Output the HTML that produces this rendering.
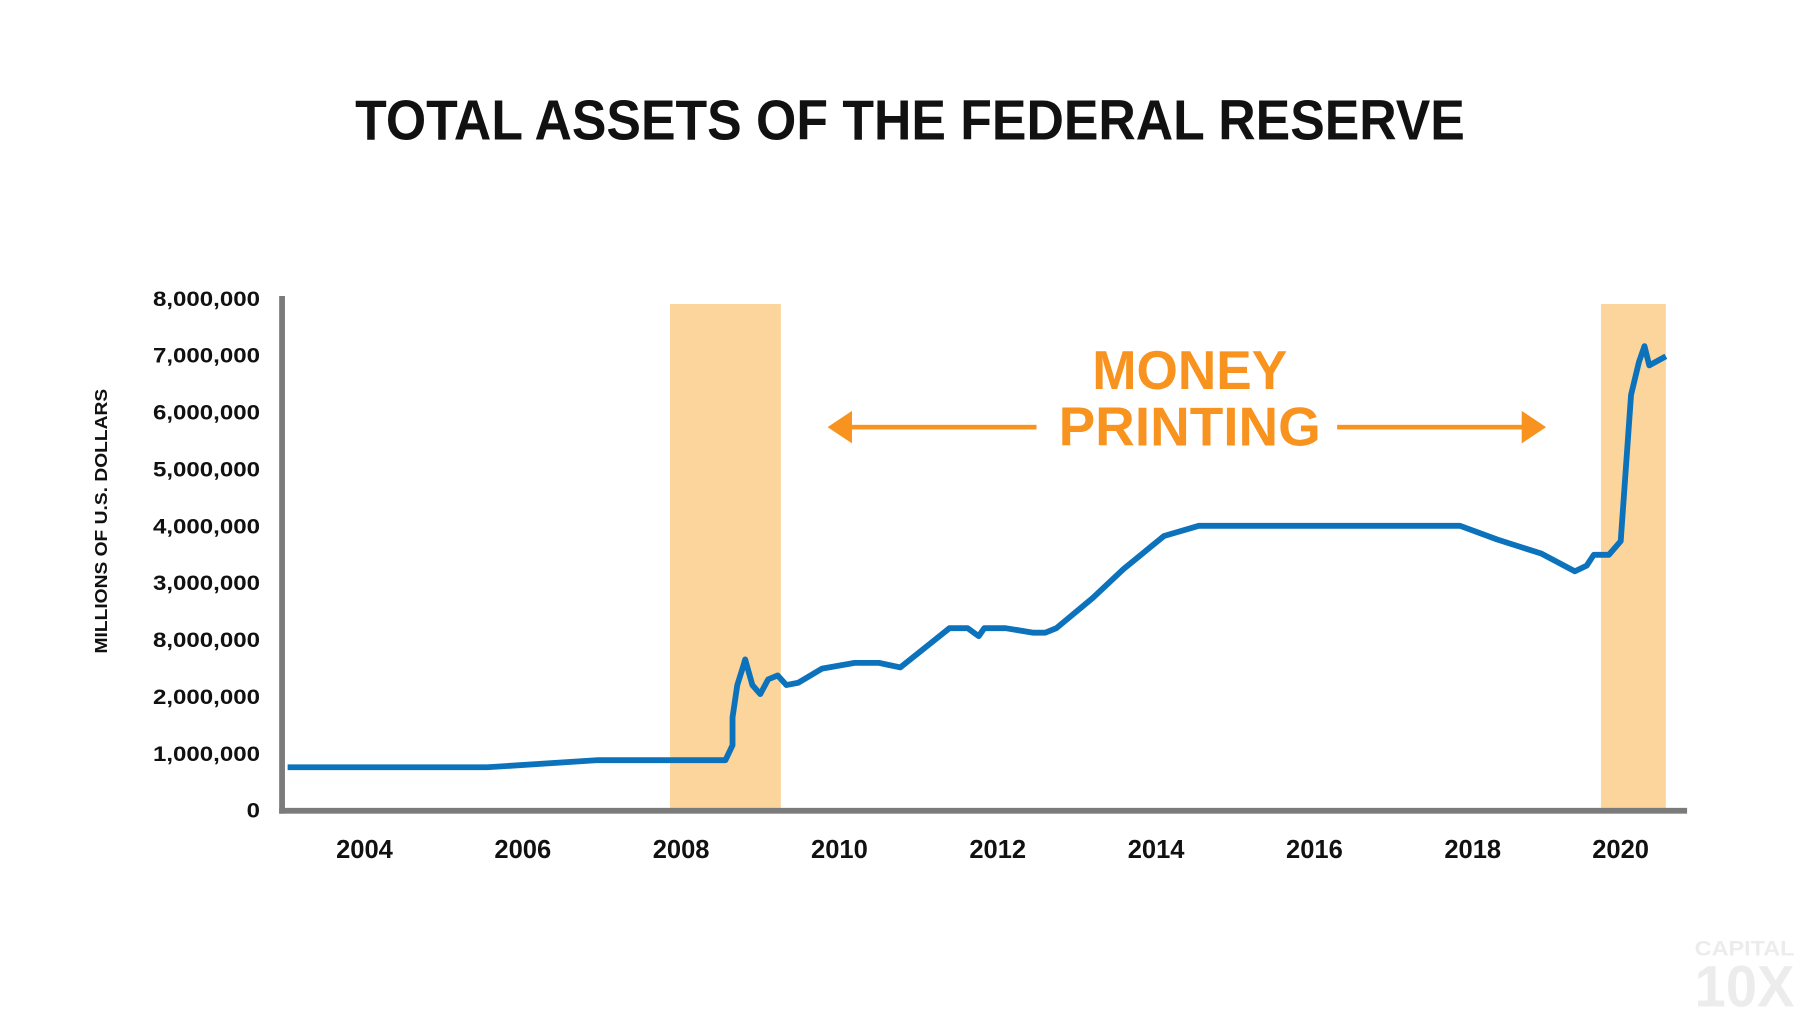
<!DOCTYPE html>
<html><head><meta charset="utf-8"><style>
html,body{margin:0;padding:0;background:#fff;width:1820px;height:1024px;overflow:hidden}
svg{display:block}
text{font-family:"Liberation Sans",sans-serif;font-weight:bold}
</style></head><body>
<svg id="chart" width="1820" height="1024" viewBox="0 0 1568 882.2">
<text x="784" y="120" text-anchor="middle" font-size="49" fill="#111" textLength="956" lengthAdjust="spacingAndGlyphs">TOTAL ASSETS OF THE FEDERAL RESERVE</text>
<g id="shades"></g>
<g id="yticks"></g>
<g id="xticks"></g>
<text transform="translate(92,449) rotate(-90)" text-anchor="middle" font-size="15.5" fill="#111" textLength="228" lengthAdjust="spacingAndGlyphs">MILLIONS OF U.S. DOLLARS</text>
<g fill="#f7931e">
<text x="1025" y="335" text-anchor="middle" font-size="47" textLength="168" lengthAdjust="spacingAndGlyphs">MONEY</text>
<text x="1025" y="384" text-anchor="middle" font-size="47" textLength="226" lengthAdjust="spacingAndGlyphs">PRINTING</text>
<rect x="728" y="366" width="165" height="4"/>
<polygon points="713,368 734,354 734,382"/>
<rect x="1152" y="366" width="165" height="4"/>
<polygon points="1332,368 1311,354 1311,382"/>
</g>
<path id="series" fill="none" stroke="#0b72bb" stroke-width="5" stroke-linejoin="round"/>
<rect x="240.5" y="255" width="5" height="446" fill="#7b7b7b"/>
<rect x="240.5" y="696" width="1213" height="5" fill="#7b7b7b"/>
<g fill="#ececec">
<text x="1503" y="823" text-anchor="middle" font-size="18" textLength="86" lengthAdjust="spacingAndGlyphs">CAPITAL</text>
<text x="1503" y="867" text-anchor="middle" font-size="50" textLength="86" lengthAdjust="spacingAndGlyphs">10X</text>
</g>
</svg>
<script>
const yTickLabels = ["0","1,000,000","2,000,000","8,000,000","3,000,000","4,000,000","5,000,000","6,000,000","7,000,000","8,000,000"];
const xTickYears = [2004,2006,2008,2010,2012,2014,2016,2018,2020];
const recessionStarts = [2007.86, 2019.62];
const recessionEnds = [2009.26, 2020.44];
const years = [2003.03,2005.55,2006.95,2008.56,2008.65,2008.65,2008.71,2008.78,2008.81,2008.9,2009.0,2009.1,2009.22,2009.33,2009.48,2009.78,2010.19,2010.5,2010.77,2011.39,2011.62,2011.76,2011.83,2012.1,2012.45,2012.6,2012.74,2013.2,2013.59,2014.1,2014.54,2017.84,2018.31,2018.87,2019.29,2019.44,2019.53,2019.72,2019.87,2020.0,2020.1,2020.17,2020.23,2020.44];
const values = [0.755,0.755,0.88,0.88,1.14,1.63,2.2,2.51,2.65,2.2,2.04,2.3,2.37,2.2,2.24,2.49,2.59,2.59,2.51,3.2,3.2,3.06,3.2,3.2,3.12,3.12,3.2,3.73,4.24,4.82,5.0,5.0,4.76,4.51,4.2,4.3,4.49,4.49,4.73,7.3,7.88,8.16,7.82,7.98];

const NS="http://www.w3.org/2000/svg";
function xPos(yr){return 314+(yr-2004)*68.2;}
function yPos(v){return 698-v*49;}

const yt=document.getElementById('yticks');
yTickLabels.forEach((lab,i)=>{
  const t=document.createElementNS(NS,'text');
  t.setAttribute('x',224);t.setAttribute('y',yPos(i)+6.5);
  t.setAttribute('text-anchor','end');t.setAttribute('font-size','18.5');t.setAttribute('fill','#111');
  t.textContent=lab;
  
  
  yt.appendChild(t);
  const w=t.getComputedTextLength();
  if(w>0){t.setAttribute('textLength',(w*1.12).toFixed(1));t.setAttribute('lengthAdjust','spacingAndGlyphs');}
});
const xt=document.getElementById('xticks');
xTickYears.forEach(yr=>{
  const t=document.createElementNS(NS,'text');
  t.setAttribute('x',xPos(yr)-(yr===2020?9:0));t.setAttribute('y',739);
  t.setAttribute('text-anchor','middle');t.setAttribute('font-size','22');t.setAttribute('fill','#111');
  t.textContent=yr;
  
  
  xt.appendChild(t);
});
const sh=document.getElementById('shades');
recessionStarts.forEach((s,i)=>{
  const r=document.createElementNS(NS,'rect');
  r.setAttribute('x',xPos(s));r.setAttribute('width',xPos(recessionEnds[i])-xPos(s));
  r.setAttribute('y',yPos(8.9));r.setAttribute('height',yPos(0)-yPos(8.9));
  r.setAttribute('fill','#fbd59c');
  
  
  sh.appendChild(r);
});
document.getElementById('series').setAttribute('d',
  years.map((yr,i)=>(i?'L':'M')+xPos(yr).toFixed(1)+','+yPos(values[i]).toFixed(1)).join(' '));
</script>
</body></html>
